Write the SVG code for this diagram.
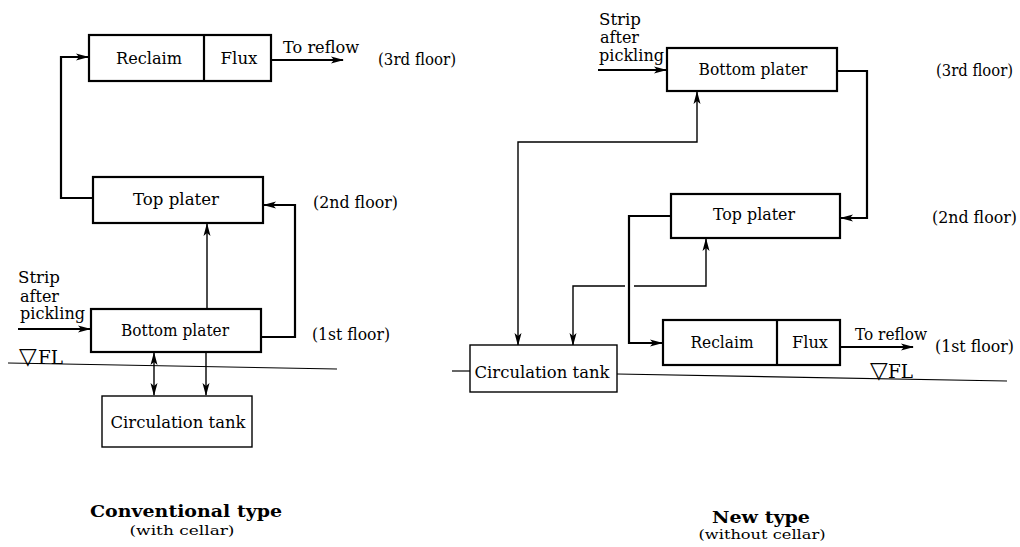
<svg xmlns="http://www.w3.org/2000/svg" width="1020" height="547" viewBox="0 0 1020 547">
<style>
  .box{fill:#fff;stroke:#000;stroke-width:2.2}
  .thin{fill:#fff;stroke:#000;stroke-width:1.4}
  .c{fill:none;stroke:#000;stroke-width:2.2}
  .cn{fill:none;stroke:#000;stroke-width:1.4}
  .fl{fill:none;stroke:#000;stroke-width:1.2}
  text{font-family:"DejaVu Serif","Liberation Serif",serif;font-size:16.5px;fill:#000}
  .m{text-anchor:middle}
  .b{font-weight:bold;font-size:17px}
  .s{font-size:13.5px}
  .tri{font-family:"DejaVu Sans",sans-serif;font-size:23px}
  .flt{font-size:18px}
</style>
<defs>
  <marker id="ah" markerWidth="13" markerHeight="8" refX="12" refY="4" orient="auto-start-reverse" markerUnits="userSpaceOnUse">
    <path d="M0,0.5 L13,4 L0,7.5 L3,4 z" fill="#000"/>
  </marker>
</defs>

<rect width="1020" height="547" fill="#fff"/>

<g id="connectors">
  <!-- left -->
  <path class="c" d="M18,329 H90" marker-end="url(#ah)"/>
  <path class="c" d="M261,337 H295 V205 H264" marker-end="url(#ah)"/>
  <path class="cn" d="M207,309 V224" marker-end="url(#ah)"/>
  <path class="c" d="M93,198 H61 V57 H88" marker-end="url(#ah)"/>
  <path class="c" d="M271,60 H343" marker-end="url(#ah)"/>
  <path class="cn" d="M154,353 V395" marker-start="url(#ah)" marker-end="url(#ah)"/>
  <path class="cn" d="M206,353 V395" marker-end="url(#ah)"/>
  <path class="fl" d="M8,363 L337,369"/>
  <!-- right -->
  <path class="c" d="M598,70 H666" marker-end="url(#ah)"/>
  <path class="c" d="M837,71 H867 V218 H841" marker-end="url(#ah)"/>
  <path class="cn" d="M518,345 V142 H697 V92" marker-start="url(#ah)" marker-end="url(#ah)"/>
  <path class="cn" d="M573,345 V286 H625" marker-start="url(#ah)"/>
  <path class="cn" d="M634,286 H706 V239" marker-end="url(#ah)"/>
  <path class="c" d="M670,216 H629 V343 H662" marker-end="url(#ah)"/>
  <path class="c" d="M840,347 H913" marker-end="url(#ah)"/>
  <path class="fl" d="M452,371 H470"/>
  <path class="fl" d="M617,374 L1007,381"/>
</g>

<g id="left-reclaim-flux">
  <rect class="box" x="89" y="35" width="182" height="46"/>
  <line class="box" x1="204" y1="35" x2="204" y2="81"/>
  <text class="m" x="149" y="64" textLength="66" lengthAdjust="spacingAndGlyphs">Reclaim</text>
  <text class="m" x="239" y="64" textLength="37" lengthAdjust="spacingAndGlyphs">Flux</text>
</g>
<g id="left-top-plater">
  <rect class="box" x="93" y="177" width="170" height="46"/>
  <text class="m" x="176" y="205" textLength="86" lengthAdjust="spacingAndGlyphs">Top plater</text>
</g>
<g id="left-bottom-plater">
  <rect class="box" x="91" y="309" width="170" height="43"/>
  <text class="m" x="175" y="336" textLength="108" lengthAdjust="spacingAndGlyphs">Bottom plater</text>
</g>
<g id="left-circulation-tank">
  <rect class="thin" x="102" y="396" width="150" height="51"/>
  <text class="m" x="178" y="428" textLength="135" lengthAdjust="spacingAndGlyphs">Circulation tank</text>
</g>
<g id="left-labels">
  <text x="283" y="53" textLength="76" lengthAdjust="spacingAndGlyphs">To reflow</text>
  <text x="378" y="65" textLength="78" lengthAdjust="spacingAndGlyphs">(3rd floor)</text>
  <text x="313" y="208" textLength="85" lengthAdjust="spacingAndGlyphs">(2nd floor)</text>
  <text x="312" y="340" textLength="78" lengthAdjust="spacingAndGlyphs">(1st floor)</text>
  <text x="18" y="283" textLength="42" lengthAdjust="spacingAndGlyphs">Strip</text>
  <text x="20" y="302" textLength="39" lengthAdjust="spacingAndGlyphs">after</text>
  <text x="20" y="319" textLength="65" lengthAdjust="spacingAndGlyphs">pickling</text>
  <text x="19" y="364"><tspan class="tri">▽</tspan><tspan class="flt" x="38" textLength="25" lengthAdjust="spacingAndGlyphs">FL</tspan></text>
  <text class="m b" x="186" y="517" textLength="192" lengthAdjust="spacingAndGlyphs">Conventional type</text>
  <text class="m s" x="182" y="535" textLength="105" lengthAdjust="spacingAndGlyphs">(with cellar)</text>
</g>

<g id="right-bottom-plater">
  <rect class="box" x="667" y="48" width="170" height="43"/>
  <text class="m" x="753" y="75" textLength="109" lengthAdjust="spacingAndGlyphs">Bottom plater</text>
</g>
<g id="right-top-plater">
  <rect class="box" x="671" y="194" width="169" height="44"/>
  <text class="m" x="754" y="220" textLength="82" lengthAdjust="spacingAndGlyphs">Top plater</text>
</g>
<g id="right-reclaim-flux">
  <rect class="box" x="663" y="320" width="177" height="45"/>
  <line class="box" x1="777" y1="320" x2="777" y2="365"/>
  <text class="m" x="722" y="348" textLength="63" lengthAdjust="spacingAndGlyphs">Reclaim</text>
  <text class="m" x="810" y="348" textLength="36" lengthAdjust="spacingAndGlyphs">Flux</text>
</g>
<g id="right-circulation-tank">
  <rect class="thin" x="470" y="345" width="147" height="47"/>
  <text class="m" x="542" y="378" textLength="135" lengthAdjust="spacingAndGlyphs">Circulation tank</text>
</g>
<g id="right-labels">
  <text x="599" y="25" textLength="42" lengthAdjust="spacingAndGlyphs">Strip</text>
  <text x="600" y="43" textLength="39" lengthAdjust="spacingAndGlyphs">after</text>
  <text x="599" y="61" textLength="65" lengthAdjust="spacingAndGlyphs">pickling</text>
  <text x="936" y="76" textLength="77" lengthAdjust="spacingAndGlyphs">(3rd floor)</text>
  <text x="932" y="223" textLength="85" lengthAdjust="spacingAndGlyphs">(2nd floor)</text>
  <text x="855" y="340" textLength="72" lengthAdjust="spacingAndGlyphs">To reflow</text>
  <text x="935" y="352" textLength="79" lengthAdjust="spacingAndGlyphs">(1st floor)</text>
  <text x="870" y="378"><tspan class="tri">▽</tspan><tspan class="flt" x="888" textLength="25" lengthAdjust="spacingAndGlyphs">FL</tspan></text>
  <text class="m b" x="761" y="523" textLength="98" lengthAdjust="spacingAndGlyphs">New type</text>
  <text class="m s" x="762" y="539" textLength="127" lengthAdjust="spacingAndGlyphs">(without cellar)</text>
</g>
</svg>
